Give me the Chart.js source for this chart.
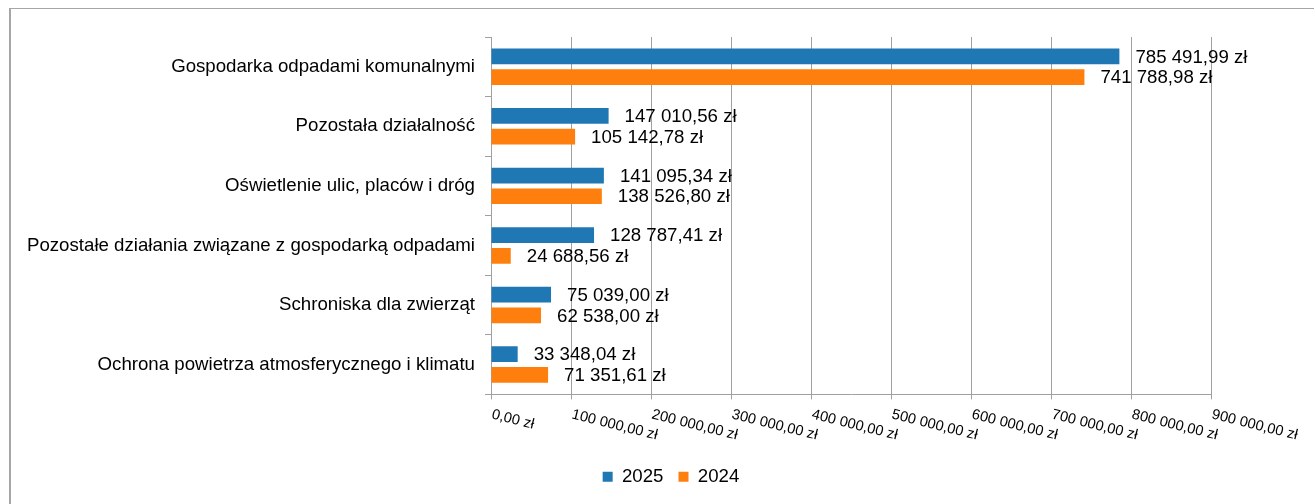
<!DOCTYPE html>
<html lang="pl">
<head>
<meta charset="utf-8">
<title>Wydatki wg rozdziałów</title>
<script src="https://cdn.jsdelivr.net/npm/chart.js@4.4.1/dist/chart.umd.min.js"></script>
<style>
  html, body { margin: 0; padding: 0; background: #fff; }
  #wrap { position: relative; width: 1314px; height: 504px; overflow: hidden; }
  #wrap canvas { position: absolute; left: 0; top: 0; }
  /* ramka wokół wykresu (lewa i górna krawędź) */
  #frame {
    position: absolute; left: 9px; top: 8px; right: -4px; bottom: -4px;
    border-left: 2px solid #a6a6a6; border-top: 1px solid #a6a6a6;
    pointer-events: none;
  }
</style>
</head>
<body>
<div id="wrap">
  <canvas id="chart" width="1314" height="504"></canvas>
  <div id="frame"></div>
</div>
<script>
// ---- dane ----
const categories = [
  "Gospodarka odpadami komunalnymi",
  "Pozostała działalność",
  "Oświetlenie ulic, placów i dróg",
  "Pozostałe działania związane z gospodarką odpadami",
  "Schroniska dla zwierząt",
  "Ochrona powietrza atmosferycznego i klimatu"
];
const values2025 = [785491.99, 147010.56, 141095.34, 128787.41, 75039.00, 33348.04];
const values2024 = [741788.98, 105142.78, 138526.80, 24688.56, 62538.00, 71351.61];
const xTicks = [0, 100000, 200000, 300000, 400000, 500000, 600000, 700000, 800000, 900000];

const FONT = '"Liberation Sans", Arial, sans-serif';
const GRID = "#a0a0a0";

// 1234567.8 -> "1 234 567,80 zł"
function formatZl(v) {
  const [intPart, dec] = v.toFixed(2).split(".");
  return intPart.replace(/\B(?=(\d{3})+(?!\d))/g, " ") + "," + dec + " zł";
}

// etykiety wartości obok słupków
const valueLabels = {
  id: "valueLabels",
  afterDatasetsDraw(chart) {
    const ctx = chart.ctx;
    ctx.save();
    ctx.font = "18.67px " + FONT;
    ctx.fillStyle = "#000";
    ctx.textAlign = "left";
    ctx.textBaseline = "middle";
    chart.data.datasets.forEach((ds, i) => {
      chart.getDatasetMeta(i).data.forEach((bar, j) => {
        ctx.fillText(formatZl(ds.data[j]), bar.x + 16, bar.y + 1);
      });
    });
    ctx.restore();
  }
};

// opisy osi X pochylone w dół w prawo
const slantedTicks = {
  id: "slantedTicks",
  afterDraw(chart) {
    const scale = chart.scales.x;
    const ctx = chart.ctx;
    ctx.save();
    ctx.font = "14.67px " + FONT;
    ctx.fillStyle = "#000";
    ctx.textAlign = "left";
    ctx.textBaseline = "alphabetic";
    xTicks.forEach(v => {
      ctx.save();
      ctx.translate(scale.getPixelForValue(v), scale.top + 24);
      ctx.rotate(14 * Math.PI / 180);
      ctx.fillText(formatZl(v), 0, 0);
      ctx.restore();
    });
    ctx.restore();
  }
};

// legenda wyśrodkowana pod całą ramką, a nie tylko pod obszarem osi
const legendShift = {
  id: "legendShift",
  afterLayout(chart) {
    if (chart.legend) chart.legend.left = 131;
  }
};

new Chart(document.getElementById("chart"), {
  type: "bar",
  data: {
    labels: categories,
    datasets: [
      { label: "2025", data: values2025, backgroundColor: "#1f77b4",
        categoryPercentage: 0.696, barPercentage: 0.758 },
      { label: "2024", data: values2024, backgroundColor: "#ff7f0e",
        categoryPercentage: 0.696, barPercentage: 0.758 }
    ]
  },
  options: {
    indexAxis: "y",
    responsive: false,
    animation: false,
    devicePixelRatio: 1,
    layout: { padding: { left: 0, right: 103, top: 37, bottom: 8 } },
    plugins: {
      legend: {
        position: "bottom",
        labels: {
          boxWidth: 10, boxHeight: 10, padding: 15, color: "#000",
          font: { size: 18.67, family: FONT }
        }
      },
      tooltip: { enabled: false }
    },
    scales: {
      x: {
        min: 0, max: 900000,
        ticks: { display: false, stepSize: 100000 },
        grid: { color: GRID, tickLength: 5 },
        border: { color: GRID },
        afterFit: s => { s.height = 58; }
      },
      y: {
        ticks: { color: "#000", padding: 10, font: { size: 18.67, family: FONT } },
        grid: { drawOnChartArea: false, color: GRID, tickLength: 6 },
        border: { color: GRID },
        afterFit: s => { s.width = 491; }
      }
    }
  },
  plugins: [valueLabels, slantedTicks, legendShift]
});
</script>
</body>
</html>
